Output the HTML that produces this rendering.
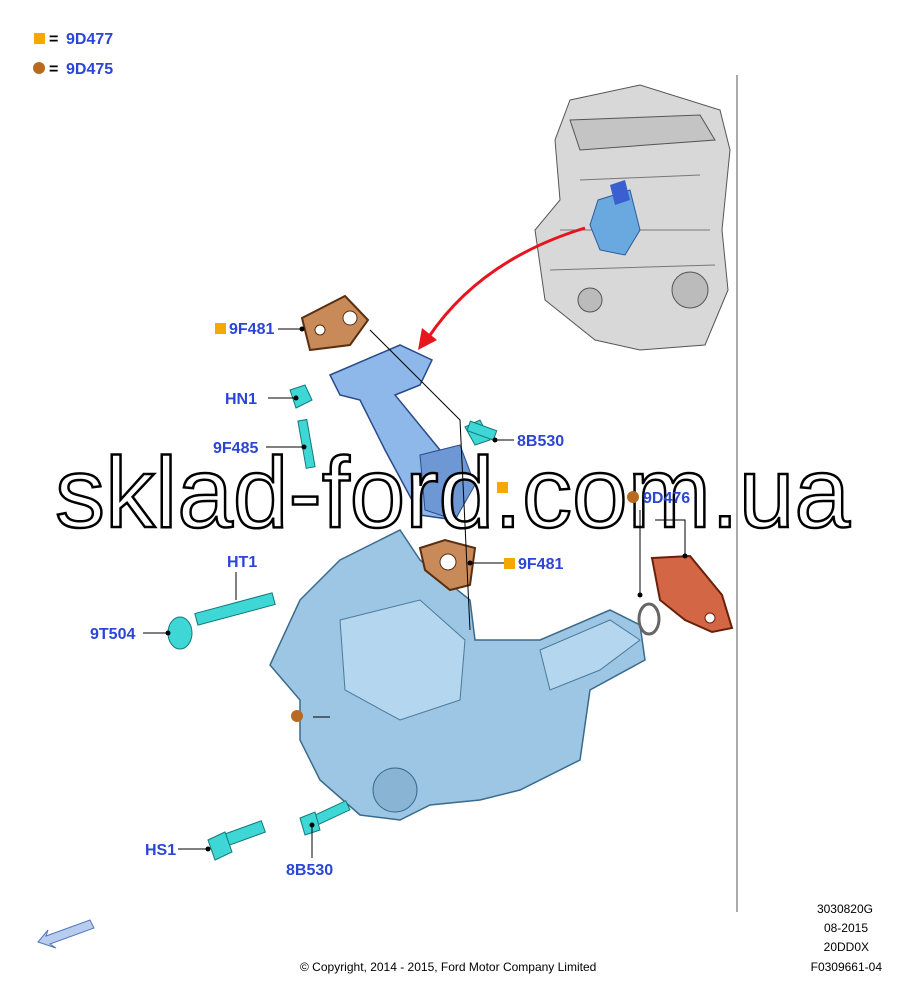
<!DOCTYPE html>
<html><head><meta charset="utf-8"><style>
body{margin:0;background:#fff;width:911px;height:1000px;overflow:hidden}
svg{display:block}
.l{font-family:"Liberation Sans",sans-serif;font-weight:bold;font-size:16px;fill:#2b45d6}
.s{font-family:"Liberation Sans",sans-serif;font-size:12px;fill:#000}
</style></head><body>
<svg width="911" height="1000" viewBox="0 0 911 1000">
<rect x="34" y="33" width="11" height="11" fill="#f5a800"/><text x="49" y="44" class="l" style="fill:#000">=</text><text x="66" y="44" class="l">9D477</text>
<circle cx="39" cy="68" r="6" fill="#b86a1e"/><text x="49" y="74" class="l" style="fill:#000">=</text><text x="66" y="74" class="l">9D475</text>
<line x1="737" y1="75" x2="737" y2="912" stroke="#555" stroke-width="1"/>
<g fill="#d8d8d8" stroke="#555" stroke-width="1">
<path d="M570 100 L640 85 L720 110 L730 150 L722 230 L728 290 L705 345 L640 350 L595 340 L545 300 L535 230 L560 200 L555 140 Z"/>
<path d="M570 120 L700 115 L715 140 L580 150 Z" fill="#c4c4c4"/>
<path d="M560 230 L710 230 M550 270 L715 265 M580 180 L700 175" fill="none" stroke="#777"/>
<circle cx="690" cy="290" r="18" fill="#bbb"/>
<circle cx="590" cy="300" r="12" fill="#bbb"/>
</g>
<path d="M598 200 L630 190 L640 230 L625 255 L600 250 L590 225 Z" fill="#6aa8e0" stroke="#2a5a9a"/>
<path d="M610 185 L625 180 L630 200 L615 205 Z" fill="#3a5fd0"/>
<path d="M585 228 Q480 260 428 338" fill="none" stroke="#e8141e" stroke-width="3"/>
<path d="M418 350 L422 328 L437 340 Z" fill="#e8141e"/>
<path d="M302 318 L345 296 L368 320 L350 345 L310 350 Z" fill="#c98a5a" stroke="#5a2f10" stroke-width="2"/>
<circle cx="320" cy="330" r="5" fill="#fff" stroke="#5a2f10"/><circle cx="350" cy="318" r="7" fill="#fff" stroke="#5a2f10"/>
<path d="M330 375 L400 345 L432 360 L420 385 L395 395 L440 450 L470 490 L455 520 L420 515 L385 450 L360 400 L340 395 Z" fill="#8eb7ea" stroke="#2b4a8a" stroke-width="1.5"/>
<path d="M420 455 L460 445 L475 485 L455 520 L425 510 Z" fill="#6e98d4" stroke="#2b4a8a"/>
<path d="M300 600 L340 560 L380 540 L400 530 L420 560 L470 600 L475 640 L540 640 L610 610 L640 625 L645 660 L590 690 L580 760 L520 790 L480 800 L430 805 L400 820 L360 815 L320 780 L300 740 L300 700 L270 665 Z" fill="#9cc6e4" stroke="#3a6a8c" stroke-width="1.5"/>
<path d="M340 620 L420 600 L465 640 L460 700 L400 720 L345 690 Z" fill="#b4d6ee" stroke="#4a7a9a"/>
<path d="M540 650 L610 620 L640 640 L600 670 L550 690 Z" fill="#b4d6ee" stroke="#4a7a9a"/>
<circle cx="395" cy="790" r="22" fill="#8ab4d4" stroke="#3a6a8c"/>
<path d="M420 548 L445 540 L475 548 L470 585 L450 590 L425 570 Z" fill="#c98a5a" stroke="#5a2f10" stroke-width="2"/>
<circle cx="448" cy="562" r="8" fill="#fff" stroke="#5a2f10"/>
<path d="M652 558 L690 556 L722 595 L732 628 L712 632 L685 620 L660 600 Z" fill="#d36645" stroke="#6a1f0a" stroke-width="2"/>
<circle cx="710" cy="618" r="5" fill="#fff" stroke="#6a1f0a"/>
<ellipse cx="649" cy="619" rx="10" ry="15" fill="none" stroke="#666" stroke-width="3"/>
<g fill="#3fd6d6" stroke="#127a7a">
<path d="M290 390 L305 385 L312 400 L296 408 Z"/>
<rect x="302" y="420" width="9" height="48" transform="rotate(-10 306 444)"/>
<path d="M465 427 L480 420 L490 440 L475 445 Z"/><rect x="468" y="425" width="28" height="10" transform="rotate(20 480 430)"/>
<rect x="195" y="603" width="80" height="12" transform="rotate(-15 235 609)"/>
<ellipse cx="180" cy="633" rx="12" ry="16"/>
<rect x="210" y="830" width="55" height="12" transform="rotate(-20 237 836)"/>
<path d="M208 840 L225 832 L232 852 L215 860 Z"/>
<rect x="305" y="810" width="45" height="10" transform="rotate(-25 327 815)"/>
<path d="M300 818 L315 812 L320 830 L305 835 Z"/>
</g>
<text x="55" y="527" textLength="795" lengthAdjust="spacingAndGlyphs" style="font-family:'Liberation Sans',sans-serif;font-size:100px;fill:#fff;stroke:#000;stroke-width:2.5">sklad-ford.com.ua</text>
<g stroke="#000" stroke-width="1" fill="none">
<path d="M278 329 H302 M268 398 H296 M266 447 H304 M514 440 H495 M236 572 V600 M143 633 H168 M178 849 H208 M312 825 V858 M508 563 H470 M313 717 H330"/>
<path d="M640 510 V595 M655 520 H685 V556"/>
<path d="M370 330 L460 420 L470 630"/>
</g>
<g fill="#000"><circle cx="302" cy="329" r="2.5"/><circle cx="296" cy="398" r="2.5"/><circle cx="304" cy="447" r="2.5"/><circle cx="495" cy="440" r="2.5"/><circle cx="168" cy="633" r="2.5"/><circle cx="208" cy="849" r="2.5"/><circle cx="312" cy="825" r="2.5"/><circle cx="470" cy="563" r="2.5"/><circle cx="640" cy="595" r="2.5"/><circle cx="685" cy="556" r="2.5"/></g>
<rect x="215" y="323" width="11" height="11" fill="#f5a800"/><text x="229" y="334" class="l">9F481</text>
<text x="225" y="404" class="l">HN1</text>
<text x="213" y="453" class="l">9F485</text>
<text x="517" y="446" class="l">8B530</text>
<rect x="497" y="482" width="11" height="11" fill="#f5a800"/>
<circle cx="633" cy="497" r="6" fill="#b86a1e"/><text x="643" y="503" class="l">9D476</text>
<rect x="504" y="558" width="11" height="11" fill="#f5a800"/><text x="518" y="569" class="l">9F481</text>
<text x="227" y="567" class="l">HT1</text>
<text x="90" y="639" class="l">9T504</text>
<circle cx="297" cy="716" r="6" fill="#b86a1e"/>
<text x="145" y="855" class="l">HS1</text>
<text x="286" y="875" class="l">8B530</text>
<text x="873" y="913" text-anchor="end" class="s">3030820G</text>
<text x="868" y="932" text-anchor="end" class="s">08-2015</text>
<text x="869" y="951" text-anchor="end" class="s">20DD0X</text>
<text x="882" y="971" text-anchor="end" class="s">F0309661-04</text>
<text x="300" y="971" class="s">© Copyright, 2014 - 2015, Ford Motor Company Limited</text>
<path d="M38 942 L48 930 L46 936 L90 920 L94 928 L50 944 L56 948 Z" fill="#b8ccf0" stroke="#5577bb"/>
</svg>
</body></html>
